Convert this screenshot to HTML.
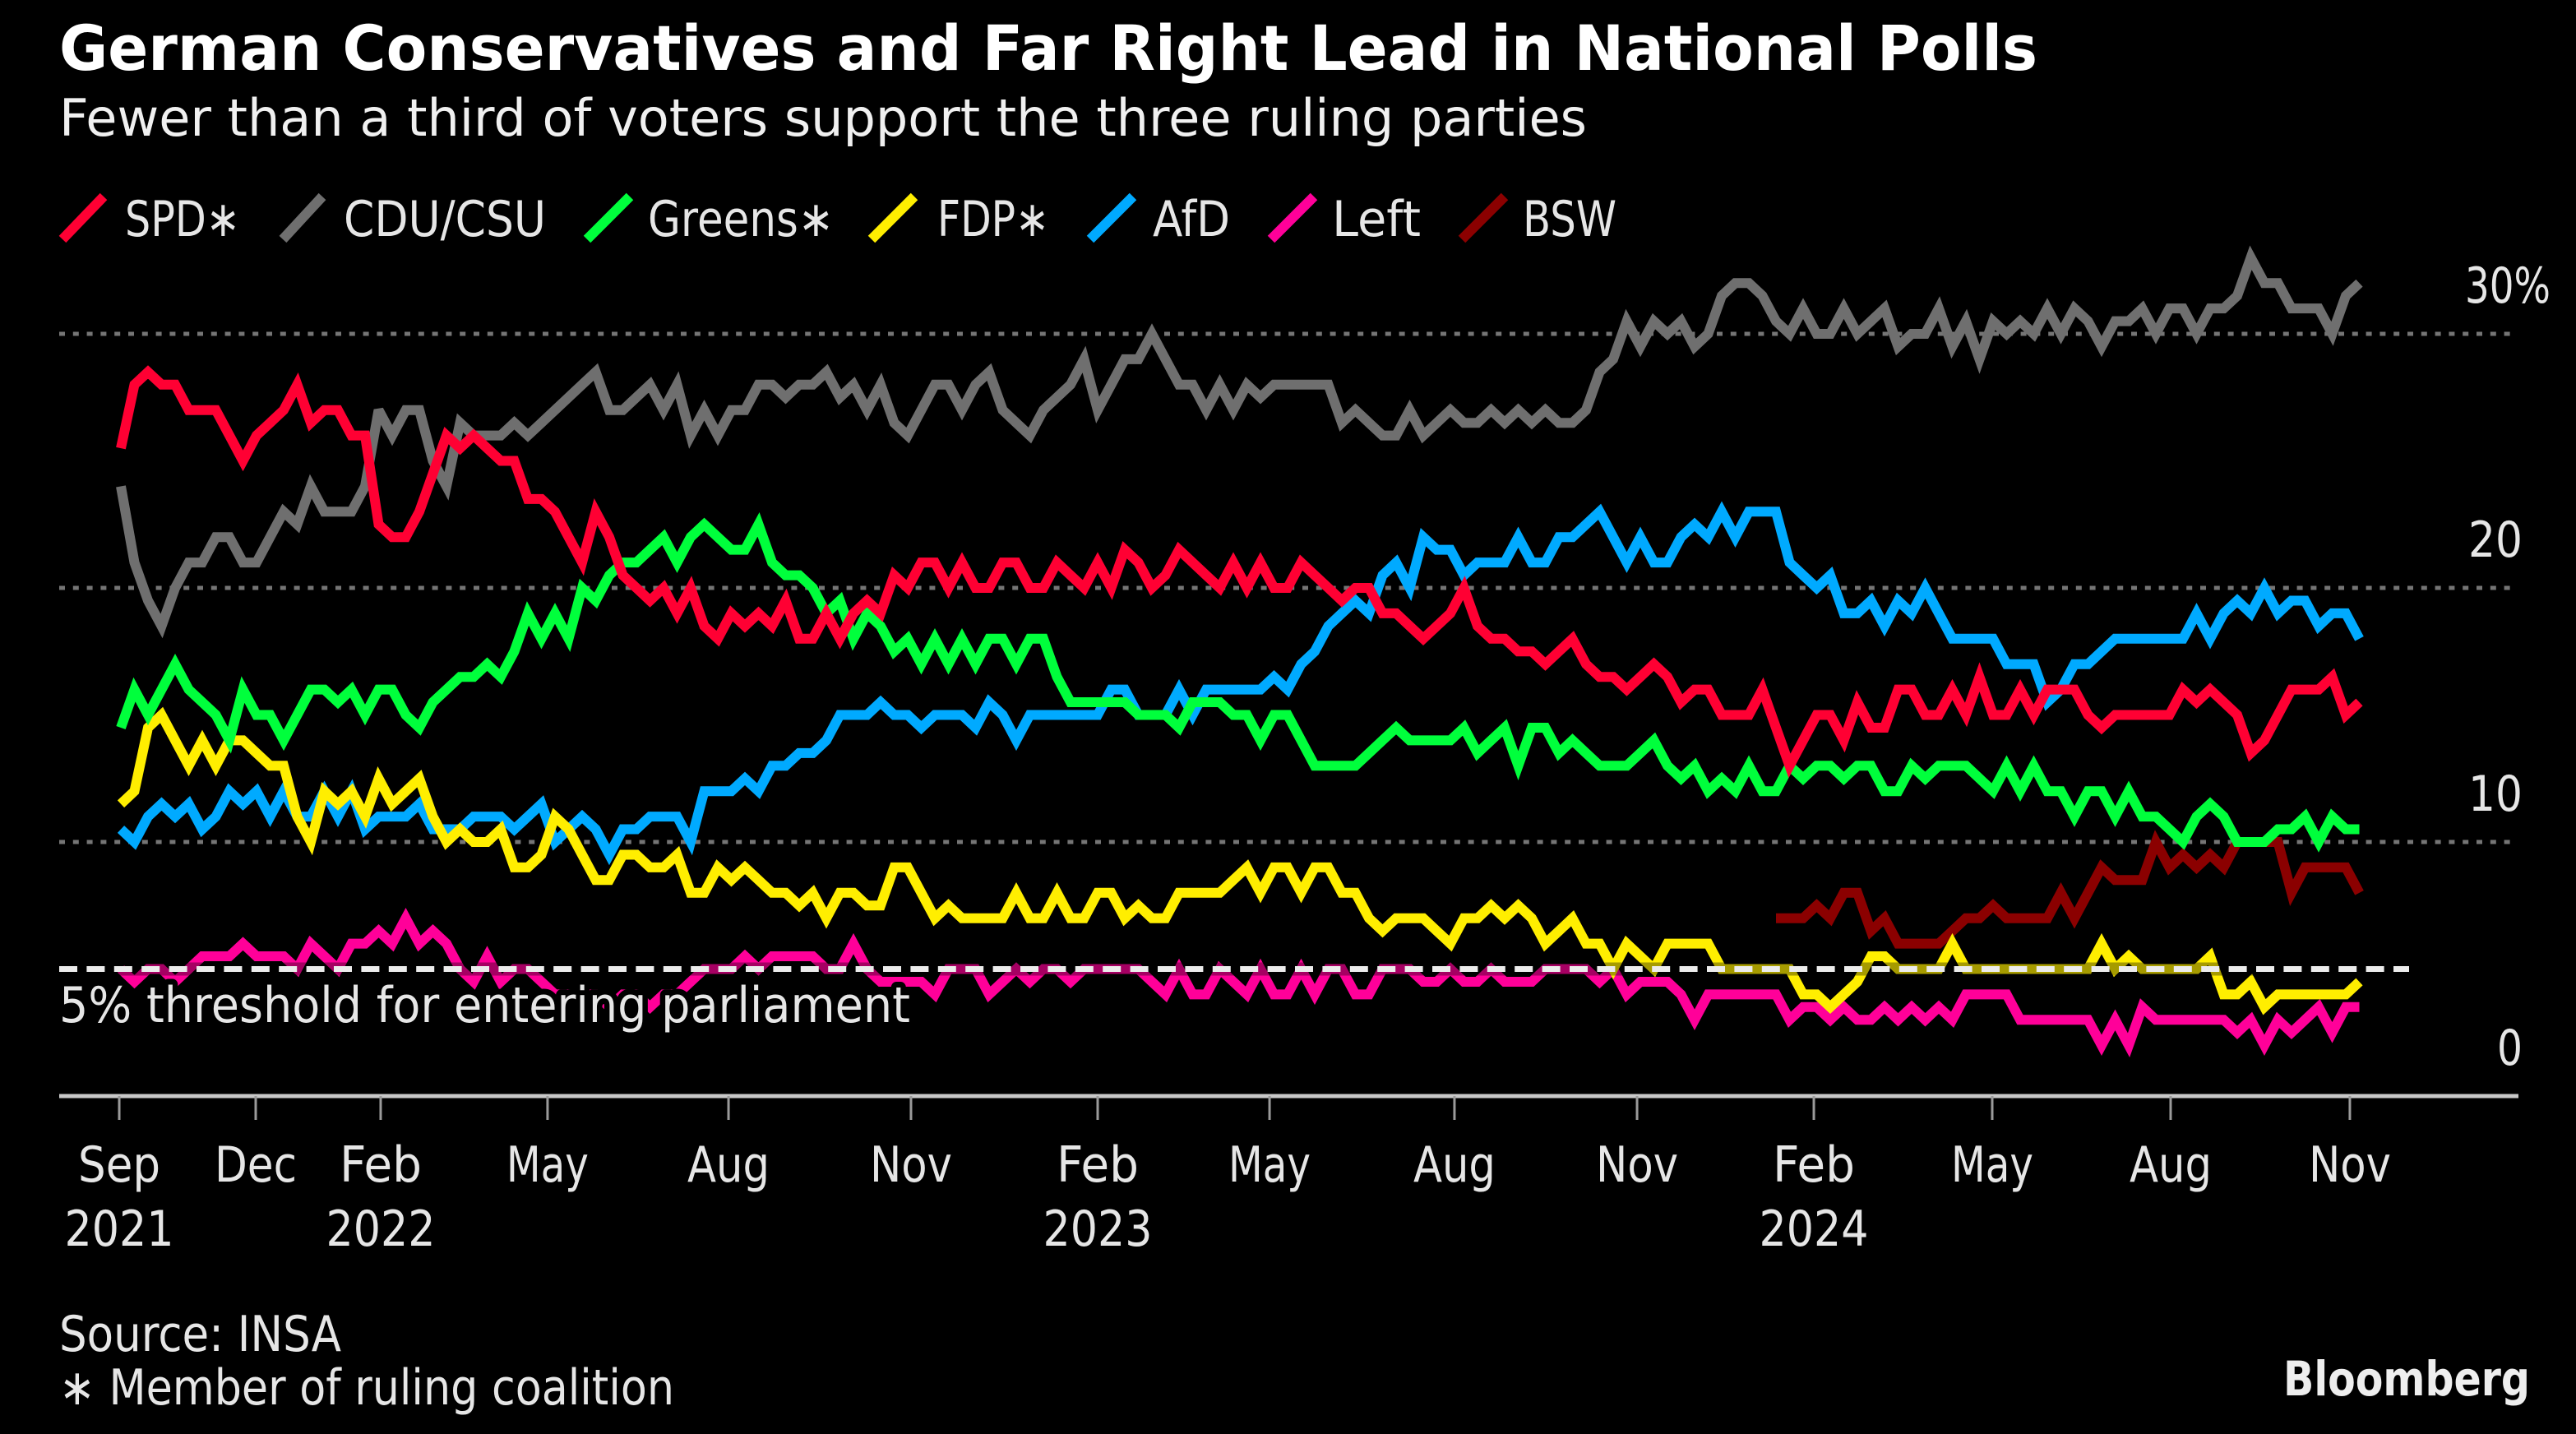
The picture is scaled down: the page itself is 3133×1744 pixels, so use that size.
<!DOCTYPE html>
<html lang="en">
<head>
<meta charset="utf-8">
<title>German Conservatives and Far Right Lead in National Polls</title>
<style>
html,body{margin:0;padding:0;background:#000;}
svg{display:block;}
text{font-family:"DejaVu Sans","Liberation Sans",sans-serif;fill:#e6e6e6;font-size:60px;}
.b{font-weight:bold;fill:#fff;}
</style>
</head>
<body>
<svg id="chart" xmlns="http://www.w3.org/2000/svg" width="3133" height="1744" viewBox="0 0 3133 1744">
<rect width="3133" height="1744" fill="#000"/>
<text class="b" x="72" y="85" font-size="76" style="font-size:76px" textLength="2406" lengthAdjust="spacingAndGlyphs">German Conservatives and Far Right Lead in National Polls</text>
<text x="72" y="165" style="font-size:62px;fill:#f0f0f0" textLength="1858" lengthAdjust="spacingAndGlyphs">Fewer than a third of voters support the three ruling parties</text>

<g>
<line x1="76" y1="291" x2="126" y2="239" stroke="#ff0033" stroke-width="12"/>
<text x="152" y="287" textLength="140" lengthAdjust="spacingAndGlyphs">SPD∗</text>
<line x1="344" y1="291" x2="392" y2="239" stroke="#6f6f6f" stroke-width="12"/>
<text x="418" y="287" textLength="246" lengthAdjust="spacingAndGlyphs">CDU/CSU</text>
<line x1="714" y1="291" x2="766" y2="239" stroke="#00ff3c" stroke-width="12"/>
<text x="788" y="287" textLength="226" lengthAdjust="spacingAndGlyphs">Greens∗</text>
<line x1="1060" y1="291" x2="1112" y2="239" stroke="#ffee00" stroke-width="12"/>
<text x="1140" y="287" textLength="136" lengthAdjust="spacingAndGlyphs">FDP∗</text>
<line x1="1326" y1="291" x2="1378" y2="239" stroke="#00aaff" stroke-width="12"/>
<text x="1402" y="287" textLength="94" lengthAdjust="spacingAndGlyphs">AfD</text>
<line x1="1546" y1="291" x2="1598" y2="239" stroke="#ff0099" stroke-width="12"/>
<text x="1620" y="287" textLength="108" lengthAdjust="spacingAndGlyphs">Left</text>
<line x1="1778" y1="291" x2="1830" y2="239" stroke="#8b0000" stroke-width="12"/>
<text x="1852" y="287" textLength="114" lengthAdjust="spacingAndGlyphs">BSW</text>
</g>

<g id="grid"></g>
<g id="series"></g>
<g id="threshold"></g>
<g id="axis"></g>

<text x="72" y="1643" textLength="343" lengthAdjust="spacingAndGlyphs">Source: INSA</text>
<text x="72" y="1708" textLength="748" lengthAdjust="spacingAndGlyphs">∗ Member of ruling coalition</text>
<text class="b" x="2777" y="1697" style="font-size:58px;fill:#eee" textLength="300" lengthAdjust="spacingAndGlyphs">Bloomberg</text>
</svg>

<script>
// Values (percent, one reading per week from index 0)
const spd = [
25.5,28,28.5,28,28,27,27,27,26,25,
26,26.5,27,28,26.5,27,27,26,26,22.5,
22,22,23,24.5,26,25.5,26,25.5,25,25,
23.5,23.5,23,22,21,23,22,20.5,20,19.5,
20,19,20,18.5,18,19,18.5,19,18.5,19.5,
18,18,19,18,19,19.5,19,20.5,20,21,
21,20,21,20,20,21,21,20,20,21,
20.5,20,21,20,21.5,21,20,20.5,21.5,21,
20.5,20,21,20,21,20,20,21,20.5,20,
19.5,20,20,19,19,18.5,18,18.5,19,20,
18.5,18,18,17.5,17.5,17,17.5,18,17,16.5,
16.5,16,16.5,17,16.5,15.5,16,16,15,15,
15,16,14.5,13,14,15,15,14,15.5,14.5,
14.5,16,16,15,15,16,15,16.5,15,15,
16,15,16,16,16,15,14.5,15,15,15,
15,15,16,15.5,16,15.5,15,13.5,14,15,
16,16,16,16.5,15,15.5];
const cduCsu = [
24,21,19.5,18.5,20,21,21,22,22,21,
21,22,23,22.5,24,23,23,23,24,27,
26,27,27,25,24,26.5,26,26,26,26.5,
26,26.5,27,27.5,28,28.5,27,27,27.5,28,
27,28,26,27,26,27,27,28,28,27.5,
28,28,28.5,27.5,28,27,28,26.5,26,27,
28,28,27,28,28.5,27,26.5,26,27,27.5,
28,29,27,28,29,29,30,29,28,28,
27,28,27,28,27.5,28,28,28,28,28,
26.5,27,26.5,26,26,27,26,26.5,27,26.5,
26.5,27,26.5,27,26.5,27,26.5,26.5,27,28.5,
29,30.5,29.5,30.5,30,30.5,29.5,30,31.5,32,
32,31.5,30.5,30,31,30,30,31,30,30.5,
31,29.5,30,30,31,29.5,30.5,29,30.5,30,
30.5,30,31,30,31,30.5,29.5,30.5,30.5,31,
30,31,31,30,31,31,31.5,33,32,32,
31,31,31,30,31.5,32];
const greens = [
14.5,16,15,16,17,16,15.5,15,14,16,
15,15,14,15,16,16,15.5,16,15,16,
16,15,14.5,15.5,16,16.5,16.5,17,16.5,17.5,
19,18,19,18,20,19.5,20.5,21,21,21.5,
22,21,22,22.5,22,21.5,21.5,22.5,21,20.5,
20.5,20,19,19.5,18,19,18.5,17.5,18,17,
18,17,18,17,18,18,17,18,18,16.5,
15.5,15.5,15.5,15.5,15.5,15,15,15,14.5,15.5,
15.5,15.5,15,15,14,15,15,14,13,13,
13,13,13.5,14,14.5,14,14,14,14,14.5,
13.5,14,14.5,13,14.5,14.5,13.5,14,13.5,13,
13,13,13.5,14,13,12.5,13,12,12.5,12,
13,12,12,13,12.5,13,13,12.5,13,13,
12,12,13,12.5,13,13,13,12.5,12,13,
12,13,12,12,11,12,12,11,12,11,
11,10.5,10,11,11.5,11,10,10,10,10.5,
10.5,11,10,11,10.5,10.5];
const fdp = [
11.5,12,14.5,15,14,13,14,13,14,14,
13.5,13,13,11,10,12,11.5,12,11,12.5,
11.5,12,12.5,11,10,10.5,10,10,10.5,9,
9,9.5,11,10.5,9.5,8.5,8.5,9.5,9.5,9,
9,9.5,8,8,9,8.5,9,8.5,8,8,
7.5,8,7,8,8,7.5,7.5,9,9,8,
7,7.5,7,7,7,7,8,7,7,8,
7,7,8,8,7,7.5,7,7,8,8,
8,8,8.5,9,8,9,9,8,9,9,
8,8,7,6.5,7,7,7,6.5,6,7,
7,7.5,7,7.5,7,6,6.5,7,6,6,
5,6,5.5,5,6,6,6,6,5,5,
5,5,5,5,4,4,3.5,4,4.5,5.5,
5.5,5,5,5,5,6,5,5,5,5,
5,5,5,5,5,5,6,5,5.5,5,
5,5,5,5,5.5,4,4,4.5,3.5,4,
4,4,4,4,4,4.5];
const afd = [
10.5,10,11,11.5,11,11.5,10.5,11,12,11.5,
12,11,12,11,11,12,11,12,10.5,11,
11,11,11.5,10.5,10.5,10.5,11,11,11,10.5,
11,11.5,10,10.5,11,10.5,9.5,10.5,10.5,11,
11,11,10,12,12,12,12.5,12,13,13,
13.5,13.5,14,15,15,15,15.5,15,15,14.5,
15,15,15,14.5,15.5,15,14,15,15,15,
15,15,15,16,16,15,15,15,16,15,
16,16,16,16,16,16.5,16,17,17.5,18.5,
19,19.5,19,20.5,21,20,22,21.5,21.5,20.5,
21,21,21,22,21,21,22,22,22.5,23,
22,21,22,21,21,22,22.5,22,23,22,
23,23,23,21,20.5,20,20.5,19,19,19.5,
18.5,19.5,19,20,19,18,18,18,18,17,
17,17,15.5,16,17,17,17.5,18,18,18,
18,18,18,19,18,19,19.5,19,20,19,
19.5,19.5,18.5,19,19,18];
const left = [
5,4.5,5,5,4.5,5,5.5,5.5,5.5,6,
5.5,5.5,5.5,5,6,5.5,5,6,6,6.5,
6,7,6,6.5,6,5,4.5,5.5,4.5,5,
5,4.5,4,4,4,4,3.5,4,4,3.5,
4,4,4.5,5,5,5,5.5,5,5.5,5.5,
5.5,5.5,5,5,6,5,4.5,4.5,4.5,4.5,
4,5,5,5,4,4.5,5,4.5,5,5,
4.5,5,5,5,5,5,4.5,4,5,4,
4,5,4.5,4,5,4,4,5,4,5,
5,4,4,5,5,5,4.5,4.5,5,4.5,
4.5,5,4.5,4.5,4.5,5,5,5,5,4.5,
5,4,4.5,4.5,4.5,4,3,4,4,4,
4,4,4,3,3.5,3.5,3,3.5,3,3,
3.5,3,3.5,3,3.5,3,4,4,4,4,
3,3,3,3,3,3,2,3,2,3.5,
3,3,3,3,3,3,2.5,3,2,3,
2.5,3,3.5,2.5,3.5,3.5];
const bswFirstWeek = 122;
const bsw = [
7,7,7,7.5,7,8,8,6.5,
7,6,6,6,6,6.5,7,7,7.5,7,
7,7,7,8,7,8,9,8.5,8.5,8.5,
10,9,9.5,9,9.5,9,10,10,10,10,
8,9,9,9,9,8];

const yTicks = [0, 10, 20, 30];
const yTickLabels = ['0', '10', '20', '30%'];
const thresholdValue = 5;
const tickMonths = ['Sep','Dec','Feb','May','Aug','Nov','Feb','May','Aug','Nov','Feb','May','Aug','Nov'];
const tickYears = ['2021','','2022','','','','2023','','','','2024','','',''];
const tickWeeks = [-0.12,9.94,19.15,31.45,44.79,58.24,72,84.67,98.3,111.76,124.79,137.94,151.09,164.3];

// Axis functions
function xScale(week){ return 147 + week * 16.5; }
function yScale(v){ return 1333 - v * 30.9; }

const NS = 'http://www.w3.org/2000/svg';
function make(tag, attrs, parent){
  const el = document.createElementNS(NS, tag);
  for (const k in attrs) el.setAttribute(k, attrs[k]);
  parent.appendChild(el);
  return el;
}

// Gridlines and y labels
const gridG = document.getElementById('grid');
yTicks.forEach(function(t, i){
  if (t !== 0) {
    const g = make('line', {x1:72, x2:3062, y1:yScale(t), y2:yScale(t), stroke:'#757575', 'stroke-width':5, 'stroke-dasharray':'7 9.8'}, gridG);
    
    
  }
  const lab = make('text', {x: yTickLabels[i].length === 3 ? 2998 : 3068, y: yScale(t) - 38, 'text-anchor': yTickLabels[i].length === 3 ? 'start' : 'end', textLength: yTickLabels[i].length === 3 ? 104 : (yTickLabels[i].length === 2 ? 66 : 31), lengthAdjust:'spacingAndGlyphs'}, gridG);
  lab.textContent = yTickLabels[i];
  
  
});

// Series, bottom-most first
const seriesG = document.getElementById('series');
function drawSeries(values, firstWeek, color, name){
  const pts = values.map(function(v, i){ return xScale(firstWeek + i).toFixed(1) + ',' + yScale(v).toFixed(1); }).join(' ');
  const line = make('polyline', {points: pts, fill:'none', stroke: color, 'stroke-width': 12, 'stroke-linejoin':'miter', 'stroke-miterlimit': 3, 'stroke-linecap':'butt'}, seriesG);
  
  
}
drawSeries(bsw, bswFirstWeek, '#8b0000', 'line-bsw');
drawSeries(left, 0, '#ff0099', 'line-left');
drawSeries(afd, 0, '#00aaff', 'line-afd');
drawSeries(fdp, 0, '#ffee00', 'line-fdp');
drawSeries(greens, 0, '#00ff3c', 'line-greens');
drawSeries(cduCsu, 0, '#6f6f6f', 'line-cdu-csu');
drawSeries(spd, 0, '#ff0033', 'line-spd');

// 5% threshold annotation
const thG = document.getElementById('threshold');
const band = make('line', {x1:72, x2:2930, y1:yScale(thresholdValue), y2:yScale(thresholdValue), stroke:'#000', 'stroke-opacity':0.35, 'stroke-width':16}, thG);


const dash = make('line', {x1:72, x2:2930, y1:yScale(thresholdValue), y2:yScale(thresholdValue), stroke:'#ececec', 'stroke-width':7, 'stroke-dasharray':'22 11.4'}, thG);


const thText = make('text', {x:72, y:1243, textLength:1035, lengthAdjust:'spacingAndGlyphs', stroke:'#000', 'stroke-width':14, 'paint-order':'stroke', 'stroke-linejoin':'round'}, thG);
thText.textContent = '5% threshold for entering parliament';



// X axis
const axisG = document.getElementById('axis');
const base = make('line', {x1:72, x2:3063, y1:yScale(0), y2:yScale(0), stroke:'#c8c8c8', 'stroke-width':5}, axisG);


tickWeeks.forEach(function(w, i){
  const x = xScale(w);
  const tick = make('line', {x1:x, x2:x, y1:yScale(0), y2:yScale(0) + 29, stroke:'#9a9a9a', 'stroke-width':3}, axisG);
  
  
  const m = make('text', {x:x, y:1437, 'text-anchor':'middle', textLength:100, lengthAdjust:'spacingAndGlyphs'}, axisG);
  m.textContent = tickMonths[i];
  
  
  if (tickYears[i]) {
    const yr = make('text', {x:x, y:1515, 'text-anchor':'middle', textLength:133, lengthAdjust:'spacingAndGlyphs'}, axisG);
    yr.textContent = tickYears[i];
    
    
  }
});
</script>
</body>
</html>
